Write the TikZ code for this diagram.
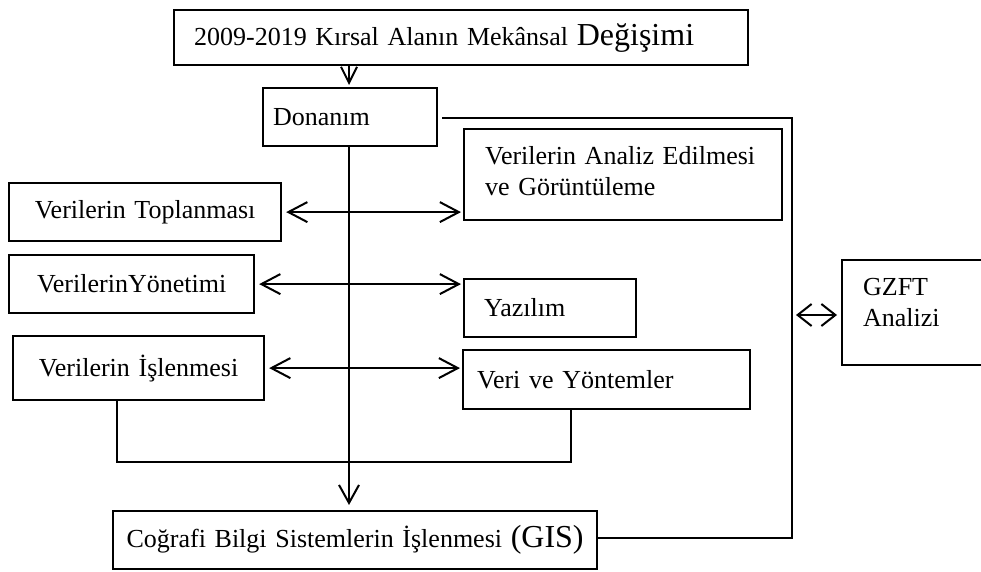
\documentclass[tikz,border=0pt]{standalone}
\usepackage{fontspec}
\setmainfont{Liberation Serif}
\usetikzlibrary{arrows.meta}
\tikzset{
  bx/.style={draw, line width=1.1pt, anchor=north west, inner ysep=0pt,
    font=\fontsize{13}{15.5}\selectfont},
  ln/.style={line width=1pt},
  arr/.style={line width=1pt, -{Straight Barb[length=9pt,width=10pt,line width=1pt]}},
  smallarr/.style={line width=1pt, -{Straight Barb[length=8pt,width=8pt,line width=1pt]}},
  darr/.style={line width=1pt, {Straight Barb[length=9.5pt,width=10pt,line width=1pt]}-{Straight Barb[length=9.5pt,width=10pt,line width=1pt]}},
  garr/.style={line width=1pt, {Straight Barb[length=7pt,width=11pt,line width=1pt]}-{Straight Barb[length=7pt,width=11pt,line width=1pt]}},
}
\begin{document}
\begin{tikzpicture}[x=0.5pt,y=-0.5pt]
\useasboundingbox (0,0) rectangle (981,572);
\clip (0,0) rectangle (981,572);

\node[bx, minimum width=287pt, minimum height=27.5pt, inner xsep=10pt, text width=267pt, align=left] (top) at (173,9)
  {2009-2019 Kırsal Alanın Mekânsal {\fontsize{16}{18}\selectfont Değişimi}};
\node[bx, minimum width=87pt, minimum height=29pt, inner xsep=5pt, text width=77pt, align=left] (donanim) at (262,87) {Donanım};
\node[bx, minimum width=159pt, minimum height=45.5pt, inner xsep=10.5pt, text width=138pt, align=left] (analiz) at (463,128)
  {Verilerin Analiz Edilmesi\\ve Görüntüleme\\[-12pt]\mbox{}};
\node[bx, minimum width=136pt, minimum height=29pt, inner xsep=5pt, text width=126pt, align=center] (topla) at (8,182) {Verilerin Toplanması};
\node[bx, minimum width=122.5pt, minimum height=29pt, inner xsep=5pt, text width=112.5pt, align=center] (yonetim) at (8,254) {VerilerinYönetimi};
\node[bx, minimum width=86pt, minimum height=29pt, inner xsep=10pt, text width=66pt, align=left] (yazilim) at (463,278) {Yazılım};
\node[bx, minimum width=125.5pt, minimum height=32pt, inner xsep=5pt, text width=115.5pt, align=center] (islen) at (12,335) {Verilerin İşlenmesi};
\node[bx, minimum width=143.5pt, minimum height=29.5pt, inner xsep=7pt, text width=129.5pt, align=left] (veri) at (462,349) {Veri ve Yöntemler};
\node[bx, minimum width=74.5pt, minimum height=52.5pt, inner xsep=10.5pt, text width=53.5pt, align=left] (gzft) at (841,259) {GZFT\\Analizi\\[-5pt]\mbox{}};
\node[bx, minimum width=242pt, minimum height=29pt, inner xsep=5pt, text width=232pt, align=center] (gis) at (112,510)
  {Coğrafi Bilgi Sistemlerin İşlenmesi {\fontsize{16}{18}\selectfont (GIS)}};

\coordinate (cx) at (349,0);
\draw[smallarr] (top.south -| cx) -- ([yshift=1pt]donanim.north -| cx);
\draw[arr] (donanim.south -| cx) -- ([yshift=2.5pt]gis.north -| cx);

\draw[darr] ([xshift=2pt]topla.east) -- ([xshift=-1pt]analiz.west |- topla.east);
\draw[darr] ([xshift=2pt]yonetim.east) -- ([xshift=-1pt]yazilim.west |- yonetim.east);
\draw[darr] ([xshift=2pt]islen.east) -- ([xshift=-1pt]veri.west |- islen.east);

\coordinate (bl) at (117,462);
\coordinate (br) at (571,462);
\draw[ln] (islen.south -| bl) -- (bl) -- (br) -- (veri.south -| br);

\coordinate (rt) at (792,118);
\coordinate (rb) at (792,538);
\draw[ln] ([xshift=2pt]donanim.east |- rt) -- (rt) -- (rb) -- (gis.east |- rb);

\coordinate (gy) at (0,315);
\draw[garr] ([xshift=2pt]rt |- gy) -- ([xshift=-2pt]gzft.west |- gy);
\end{tikzpicture}
\end{document}
